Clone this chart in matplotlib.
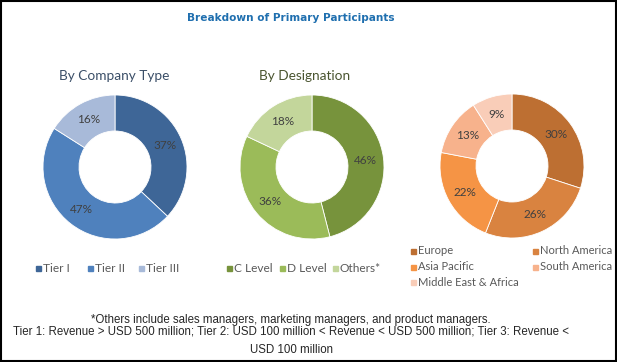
import matplotlib
matplotlib.use("Agg")
import matplotlib.pyplot as plt
from matplotlib.patches import Rectangle

# data
company_labels = ["Tier I", "Tier II", "Tier III"]
company_values = [37, 47, 16]
company_colors = ["#3E6697", "#4F81BD", "#A8BAD9"]

designation_labels = ["C Level", "D Level", "Others*"]
designation_values = [46, 36, 18]
designation_colors = ["#77933C", "#9BBB59", "#C3D69B"]

region_labels = ["Europe", "North America", "Asia Pacific", "South America", "Middle East & Africa"]
region_values = [30, 26, 22, 13, 9]
region_colors = ["#BD6F32", "#D98340", "#F59445", "#F7B28C", "#F9CDB8"]

W, H = 617, 362
fig = plt.figure(figsize=(W / 100, H / 100), dpi=100)
fig.patch.set_facecolor("white")


def fx(px):
    return px / W


def fy(py):
    return 1 - py / H


def donut(cx, cy, r, values, colors):
    ax = fig.add_axes([fx(cx - r), fy(cy + r), 2 * r / W, 2 * r / H])
    ax.pie(values, colors=colors, startangle=90, counterclock=False,
           autopct="%d%%", pctdistance=0.75, radius=1,
           wedgeprops=dict(width=0.5, edgecolor="white", linewidth=0.6),
           textprops=dict(color="#404040", fontsize=8.5, family="Lato"))
    ax.set_xlim(-1, 1)
    ax.set_ylim(-1, 1)
    ax.set_aspect("equal")
    ax.axis("off")
    return ax


donut(115, 167, 72, company_values, company_colors)
donut(312, 167, 72, designation_values, designation_colors)
donut(512, 166, 72, region_values, region_colors)

# titles
fig.text(fx(291), fy(18), "Breakdown of Primary Participants", ha="center", va="center",
         fontsize=7.6, fontweight="bold", color="#1F6FAF", family="DejaVu Sans")
fig.text(fx(114), fy(76), "By Company Type", ha="center", va="center",
         fontsize=9.8, color="#3B4F68", family="Lato")
fig.text(fx(305), fy(76), "By Designation", ha="center", va="center",
         fontsize=9.8, color="#4A5530", family="Lato")


def legend_item(x, y, label, color, size=8):
    s = 5
    fig.patches.append(Rectangle((fx(x), fy(y + s / 2)), s / W, s / H,
                                 transform=fig.transFigure, color=color))
    fig.text(fx(x + 7), fy(y), label, ha="left", va="center",
             fontsize=size, color="#595959", family="Lato")


for x, lab, c in zip([36, 88, 139], company_labels, company_colors):
    legend_item(x, 268, lab, c, 8.6)
for x, lab, c in zip([227, 280, 333], designation_labels, designation_colors):
    legend_item(x, 268, lab, c, 8.6)
region_pos = [(411, 251), (533, 251), (411, 267), (533, 267), (411, 282)]
for (x, y), lab, c in zip(region_pos, region_labels, region_colors):
    legend_item(x, y, lab, c)

# footnotes
foot = dict(ha="center", va="center", fontsize=8.3, color="#262626", family="Liberation Sans")
fig.text(fx(291), fy(320), "*Others include sales managers, marketing managers, and product managers.", **foot)
fig.text(fx(291), fy(332), "Tier 1: Revenue > USD 500 million; Tier 2: USD 100 million < Revenue < USD 500 million; Tier 3: Revenue <", **foot)
fig.text(fx(291), fy(350), "USD 100 million", **foot)

# outer frame
fig.patches.append(Rectangle((0.0015, 0.002), 0.997, 0.996, transform=fig.transFigure,
                             fill=False, edgecolor="black", linewidth=1.5))

fig.savefig("out.png", dpi=100)
